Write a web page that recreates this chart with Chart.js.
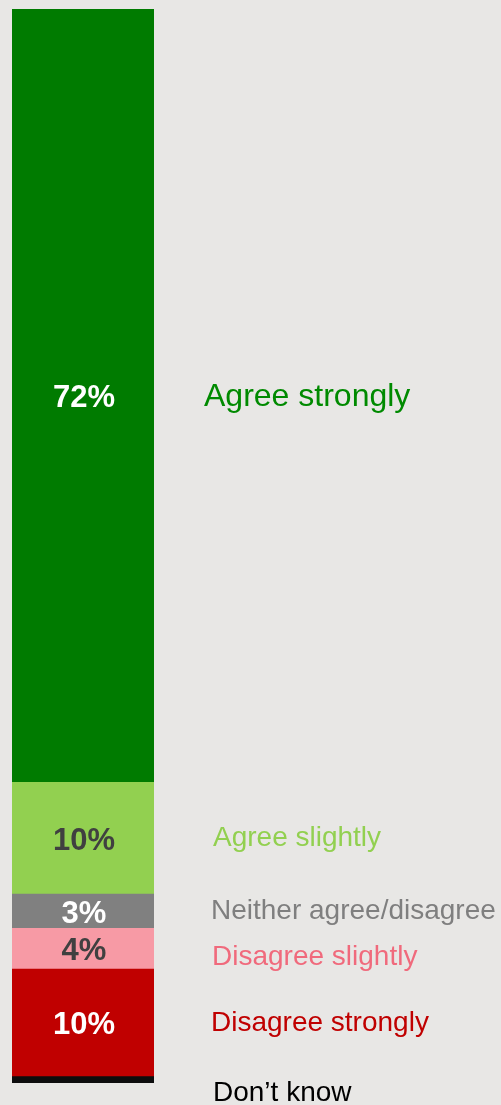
<!DOCTYPE html>
<html>
<head>
<meta charset="utf-8">
<script src="https://cdn.jsdelivr.net/npm/chart.js@4.4.0/dist/chart.umd.min.js"></script>
<style>
  html, body { margin: 0; padding: 0; background: #e8e7e5; }
  #wrap { width: 501px; height: 1105px; position: relative; }
</style>
</head>
<body>
<div id="wrap"><canvas id="chartCanvas"></canvas></div>
<script>
// stacked from bottom to top
const categories = ["Don\u2019t know", "Disagree strongly", "Disagree slightly", "Neither agree/disagree", "Agree slightly", "Agree strongly"];
const values = [0.6, 10.0, 3.8, 3.2, 10.4, 72.0];
const valueLabels = ["", "10%", "4%", "3%", "10%", "72%"];

const barColors = ["#0d0d0d", "#c00000", "#f79aa5", "#808080", "#92d050", "#007b00"];
const textColors = ["#000000", "#c00000", "#f06a7c", "#7f7f7f", "#92d050", "#008a00"];
const valueColors = ["#ffffff", "#ffffff", "#404040", "#ffffff", "#404040", "#ffffff"];
const labelX = [213, 211, 212, 211, 213, 204];
const labelDy = [14, 0, 9, 0, 0, 2];
const labelSize = [28, 28, 28, 28, 28, 32];

const labelsPlugin = {
    id: "segLabels",
    afterDatasetsDraw(chart) {
        const ctx = chart.ctx;
        const y = chart.scales.y;
        const x = chart.scales.x;
        const cx = x.getPixelForValue(0);
        let base = 0;
        ctx.save();
        ctx.textBaseline = "middle";
        values.forEach((v, i) => {
            const mid = y.getPixelForValue(base + v / 2);
            base += v;
            if (valueLabels[i]) {
                ctx.font = "bold 31px 'Liberation Sans', Arial, sans-serif";
                ctx.fillStyle = valueColors[i];
                ctx.textAlign = "center";
                ctx.fillText(valueLabels[i], cx + 1, mid + 3);
            }
            ctx.font = labelSize[i] + "px 'Liberation Sans', Arial, sans-serif";
            ctx.fillStyle = textColors[i];
            ctx.textAlign = "left";
            ctx.fillText(categories[i], labelX[i], mid + labelDy[i]);
        });
        ctx.restore();
    }
};

document.addEventListener("DOMContentLoaded", () => {
    const ctx = document.getElementById("chartCanvas").getContext("2d");
    const total = values.reduce((a, b) => a + b, 0);

    new Chart(ctx, {
        type: "bar",
        data: {
            labels: [""],
            datasets: categories.map((c, i) => ({
                label: c,
                data: [values[i]],
                backgroundColor: barColors[i],
                borderWidth: 0,
                barPercentage: 1,
                categoryPercentage: 1
            }))
        },
        options: {
            responsive: true,
            maintainAspectRatio: false,
            animation: false,
            layout: { padding: { left: 12, top: 9, bottom: 22, right: 347 } },
            plugins: { legend: { display: false }, tooltip: { enabled: false } },
            scales: {
                x: { stacked: true, display: false },
                y: { stacked: true, display: false, min: 0, max: total }
            }
        },
        plugins: [labelsPlugin]
    });
});
</script>
</body>
</html>
